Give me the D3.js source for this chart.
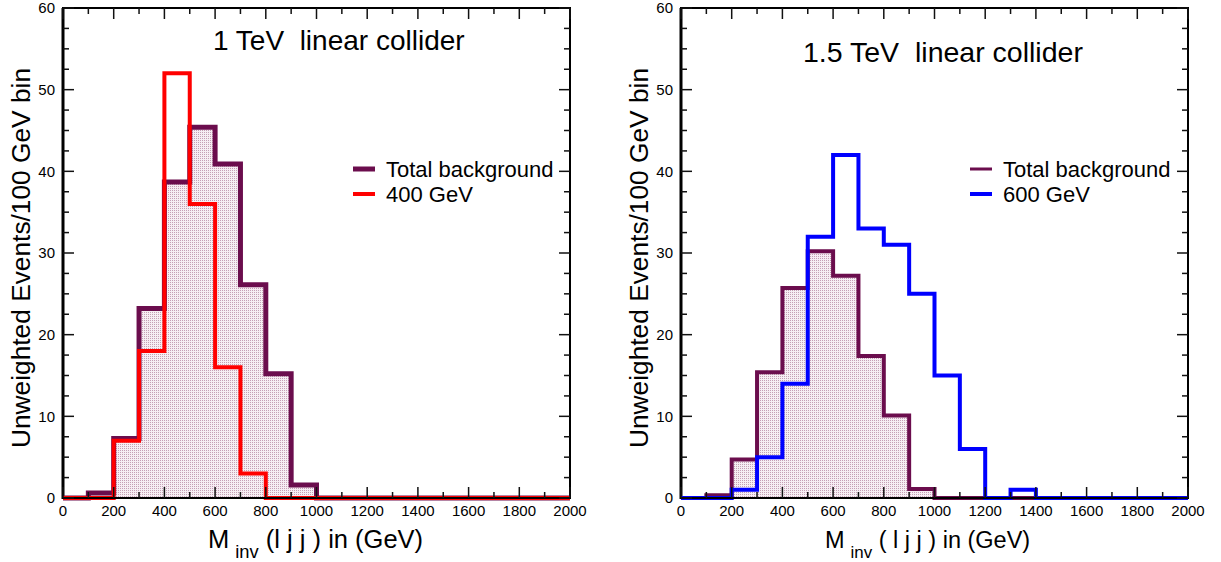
<!DOCTYPE html>
<html>
<head>
<meta charset="utf-8">
<script src="https://cdn.jsdelivr.net/npm/d3@7"></script>
<style>
  html, body { margin: 0; padding: 0; background: #fff; }
  svg { display: block; font-family: "Liberation Sans", Arial, Helvetica, sans-serif; }
  text { white-space: pre; }
</style>
</head>
<body>
<svg id="chart" width="1221" height="562"></svg>
<script>
// ---- data ----
const binStarts = [0,100,200,300,400,500,600,700,800,900,1000,1100,1200,1300,1400,1500,1600,1700,1800,1900];
const binWidth = 100;
const bkg1TeV   = [0,0.6,7.3,23.2,38.7,45.4,40.9,26.1,15.2,1.6,0,0,0,0,0,0,0,0,0,0];
const sig400GeV = [0,0,7,18,52,36,16,3,0,0,0,0,0,0,0,0,0,0,0,0];
const bkg15TeV  = [0,0.35,4.7,15.4,25.7,30.2,27.2,17.4,10.1,1.1,0,0,0,0,0,0,0,0,0,0];
const sig600GeV = [0,0,1,5,14,32,42,33,31,25,15,6,0,1,0,0,0,0,0,0];
const xTickValues = [0,200,400,600,800,1000,1200,1400,1600,1800,2000];
const xMinorValues = [100,300,500,700,900,1100,1300,1500,1700,1900];
const yTickValues = [0,10,20,30,40,50,60];
const yMinorValues = [2.5,5,7.5,12.5,15,17.5,22.5,25,27.5,32.5,35,37.5,42.5,45,47.5,52.5,55,57.5];
const legendLabels1 = ["Total background","400 GeV"];
const legendLabels2 = ["Total background","600 GeV"];
const titles = ["1 TeV  linear collider","1.5 TeV  linear collider"];
const yTitle = "Unweighted Events/100 GeV bin";

const svg = d3.select("#chart");
const BKG = "#6b0d4d";

// dotted fill pattern
const defs = svg.append("defs");
const pat = defs.append("pattern").attr("id","dots").attr("patternUnits","userSpaceOnUse")
  .attr("width",2).attr("height",2);
pat.append("rect").attr("width",2).attr("height",2).attr("fill","#f6eef3");
pat.append("rect").attr("width",1).attr("height",1).attr("fill","#c59fb5");

function drawPanel(opt) {
  const x = d3.scaleLinear().domain([0,2000]).range([opt.x0, opt.x1]);
  const y = d3.scaleLinear().domain([0,60]).range([opt.y1, opt.y0]);
  const g = svg.append("g");

  const pts = v => binStarts.map((s,i)=>[s, v[i]]).concat([[binStarts[binStarts.length-1]+binWidth, v[v.length-1]]]);
  const area = d3.area().x(d=>x(d[0])).y0(y(0)).y1(d=>y(d[1])).curve(d3.curveStepAfter);
  const line = d3.line().x(d=>x(d[0])).y(d=>y(d[1])).curve(d3.curveStepAfter);

  // frame
  g.append("rect").attr("x",opt.x0).attr("y",opt.y0).attr("width",opt.x1-opt.x0).attr("height",opt.y1-opt.y0)
    .attr("fill","none").attr("stroke","#000").attr("stroke-width",2);
  g.append("line").attr("x1",opt.x0).attr("x2",opt.x0).attr("y1",opt.y0).attr("y2",opt.y1+1).attr("stroke","#000").attr("stroke-width",3);

  // histograms
  g.append("path").attr("d", area(pts(opt.bkg))).attr("fill","url(#dots)");
  g.append("path").attr("d", line(pts(opt.bkg))).attr("fill","none").attr("stroke",BKG)
    .attr("stroke-width",opt.bkgW).attr("stroke-linejoin","miter");
  g.append("path").attr("d", line(pts(opt.sig))).attr("fill","none").attr("stroke",opt.sigColor)
    .attr("stroke-width",4).attr("stroke-linejoin","miter");

  g.append("line").attr("x1",opt.x0).attr("x2",opt.x1).attr("y1",opt.y1).attr("y2",opt.y1).attr("stroke","#000").attr("stroke-width",2);

  // ticks (inward, all sides)
  const tk = g.append("g").attr("stroke","#111").attr("stroke-width",1.5);
  xTickValues.forEach(v=>{
    tk.append("line").attr("x1",x(v)).attr("x2",x(v)).attr("y1",opt.y1).attr("y2",opt.y1-11);
    tk.append("line").attr("x1",x(v)).attr("x2",x(v)).attr("y1",opt.y0).attr("y2",opt.y0+11);
  });
  xMinorValues.forEach(v=>{
    tk.append("line").attr("x1",x(v)).attr("x2",x(v)).attr("y1",opt.y1).attr("y2",opt.y1-6);
    tk.append("line").attr("x1",x(v)).attr("x2",x(v)).attr("y1",opt.y0).attr("y2",opt.y0+6);
  });
  yTickValues.forEach(v=>{
    tk.append("line").attr("y1",y(v)).attr("y2",y(v)).attr("x1",opt.x0).attr("x2",opt.x0+11);
    tk.append("line").attr("y1",y(v)).attr("y2",y(v)).attr("x1",opt.x1).attr("x2",opt.x1-11);
  });
  yMinorValues.forEach(v=>{
    tk.append("line").attr("y1",y(v)).attr("y2",y(v)).attr("x1",opt.x0).attr("x2",opt.x0+6);
    tk.append("line").attr("y1",y(v)).attr("y2",y(v)).attr("x1",opt.x1).attr("x2",opt.x1-6);
  });

  // tick labels
  g.selectAll(".xl").data(xTickValues).join("text").attr("x",d=>x(d)).attr("y",opt.y1+17.5)
    .attr("text-anchor","middle").attr("font-size",15).text(d=>d);
  g.selectAll(".yl").data(yTickValues).join("text").attr("x",opt.x0-8).attr("y",d=>y(d)).attr("dy","0.36em")
    .attr("text-anchor","end").attr("font-size",15).text(d=>d);

  // title
  g.append("text").attr("x",opt.titleX).attr("y",opt.titleY).attr("font-size",opt.titleSize).text(opt.title);

  // y title
  g.append("text").attr("transform",`translate(${opt.x0-33},258) rotate(-90)`).attr("text-anchor","middle")
    .attr("font-size",26).attr("textLength",380).attr("lengthAdjust","spacingAndGlyphs").text(yTitle);

  // x title
  const xt = g.append("text").attr("x",opt.xtX).attr("y",548).attr("font-size",opt.xtSize);
  xt.append("tspan").text("M");
  xt.append("tspan").attr("font-size",opt.xtSize*0.72).attr("dx",6).attr("dy",10).text("inv");
  xt.append("tspan").attr("dy",-10).text(opt.xtRest);

  // legend
  const lg = g.append("g");
  [[BKG, opt.legW, opt.labels[0]],[opt.sigColor, 4, opt.labels[1]]].forEach((d,i)=>{
    const yy = 169 + i*25;
    lg.append("line").attr("x1",opt.legX).attr("x2",opt.legX+22).attr("y1",yy).attr("y2",yy)
      .attr("stroke",d[0]).attr("stroke-width",d[1]);
    lg.append("text").attr("x",opt.legX+33).attr("y",yy+7.5).attr("font-size",22).text(d[2]);
  });
}

drawPanel({x0:63, x1:570, y0:8, y1:498, bkg:bkg1TeV, sig:sig400GeV, sigColor:"#ff0000", bkgW:5, legW:5,
  title:titles[0], titleX:213, titleY:50, titleSize:28, labels:legendLabels1, legX:353,
  xtX:208, xtSize:25.5, xtRest:" (l j j ) in (GeV)"});
drawPanel({x0:681, x1:1188, y0:8, y1:498, bkg:bkg15TeV, sig:sig600GeV, sigColor:"#0000ff", bkgW:4, legW:3,
  title:titles[1], titleX:803, titleY:62, titleSize:28.5, labels:legendLabels2, legX:970,
  xtX:825, xtSize:23.5, xtRest:" ( l j j ) in (GeV)"});
</script>
</body>
</html>
